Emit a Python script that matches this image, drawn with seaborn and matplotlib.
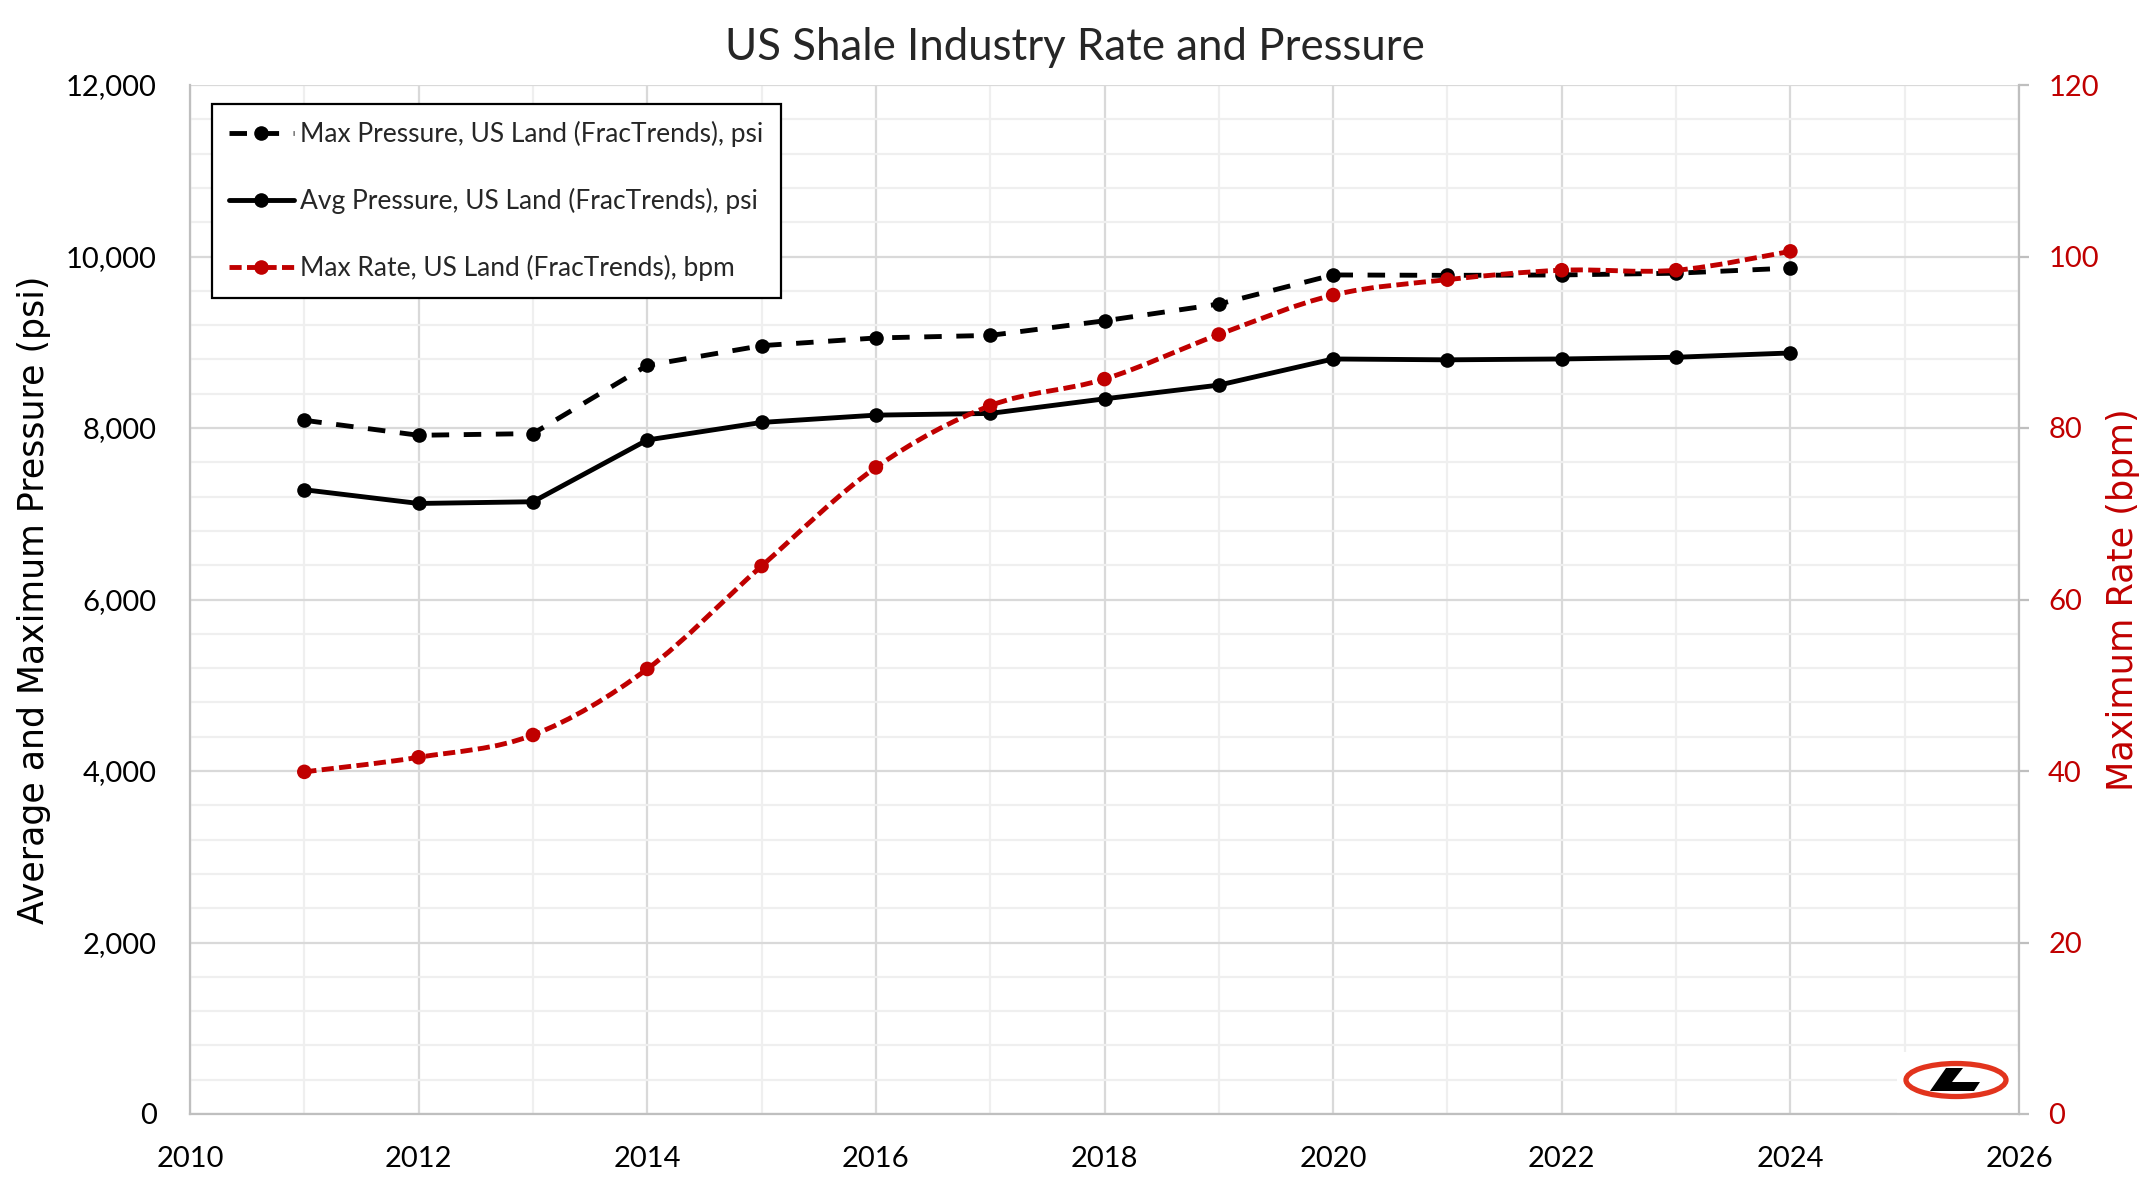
import numpy as np
import pandas as pd
import matplotlib
matplotlib.use("Agg")
import matplotlib.pyplot as plt
import seaborn as sns
from matplotlib.path import Path
from matplotlib.patches import PathPatch, Ellipse, Rectangle, Polygon
from matplotlib.lines import Line2D
from matplotlib.ticker import MultipleLocator, FuncFormatter

# ---------------- data ----------------
years = [2011, 2012, 2013, 2014, 2015, 2016, 2017, 2018, 2019, 2020, 2021, 2022, 2023, 2024]
max_pressure = [8090, 7915, 7935, 8730, 8960, 9050, 9080, 9250, 9445, 9785, 9780, 9785, 9805, 9865]
avg_pressure = [7280, 7120, 7140, 7860, 8065, 8150, 8170, 8340, 8500, 8805, 8795, 8805, 8825, 8875]
max_rate = [39.9, 41.6, 44.2, 51.9, 63.9, 75.4, 82.6, 85.7, 90.9, 95.5, 97.3, 98.4, 98.4, 100.6]

series_labels = [
    "Max Pressure, US Land (FracTrends), psi",
    "Avg Pressure, US Land (FracTrends), psi",
    "Max Rate, US Land (FracTrends), bpm",
]
title = "US Shale Industry Rate and Pressure"
left_label = "Average and Maximum Pressure (psi)"
right_label = "Maximum Rate (bpm)"

df = pd.DataFrame({"year": years, "max_pressure": max_pressure,
                   "avg_pressure": avg_pressure, "max_rate": max_rate})

# ---------------- style ----------------
sns.set_theme(style="white")
plt.rcParams["font.family"] = ["Lato", "DejaVu Sans"]

RED = "#c00000"
GRID_MAJ = "#d9d9d9"
GRID_MIN = "#efefef"
SPINE = "#bfbfbf"
LW = 3.5
MS = 10.5
DASH_BLACK = (0, (3.6, 3.0))
DASH_RED = (0, (2.5, 1.1))

W, H = 2150, 1184
fig = plt.figure(figsize=(W / 100, H / 100), dpi=100)
fig.patch.set_facecolor("white")
L, R, T, B = 190, 2019, 85, 1114
ax = fig.add_axes([L / W, 1 - B / H, (R - L) / W, (B - T) / H])
ax2 = ax.twinx()

# ---------------- lines ----------------
sns.lineplot(data=df, x="year", y="max_pressure", ax=ax, color="black", lw=LW,
             linestyle=DASH_BLACK, marker="o", markersize=MS,
             markeredgewidth=0, legend=False, zorder=3)
sns.lineplot(data=df, x="year", y="avg_pressure", ax=ax, color="black", lw=LW,
             marker="o", markersize=MS, markeredgewidth=0, legend=False, zorder=3)

# smoothed rate line (Excel-style smoothing through the data points)
pts = np.column_stack([df["year"].to_numpy(float), df["max_rate"].to_numpy(float)])
n = len(pts)
verts = [pts[0]]
codes = [Path.MOVETO]
for i in range(n - 1):
    p0 = pts[i - 1] if i > 0 else pts[i]
    p1, p2 = pts[i], pts[i + 1]
    p3 = pts[i + 2] if i + 2 < n else pts[i + 1]
    verts += [p1 + (p2 - p0) / 6.0, p2 - (p3 - p1) / 6.0, p2]
    codes += [Path.CURVE4] * 3
patch = PathPatch(Path(verts, codes), facecolor="none", edgecolor=RED, lw=LW,
                  linestyle=DASH_RED, zorder=3)
patch.set_capstyle("butt")
ax2.add_patch(patch)
sns.scatterplot(data=df, x="year", y="max_rate", ax=ax2, color=RED, s=MS ** 2,
                edgecolor="none", legend=False, zorder=4)

# ---------------- axes ----------------
ax.set_xlim(2010, 2026)
ax.set_ylim(0, 12000)
ax2.set_ylim(0, 120)
ax.xaxis.set_major_locator(MultipleLocator(2))
ax.xaxis.set_minor_locator(MultipleLocator(1))
ax.yaxis.set_major_locator(MultipleLocator(2000))
ax.yaxis.set_minor_locator(MultipleLocator(400))
ax2.yaxis.set_major_locator(MultipleLocator(20))
ax.yaxis.set_major_formatter(FuncFormatter(lambda v, p: f"{v:,.0f}"))
ax.xaxis.set_major_formatter(FuncFormatter(lambda v, p: f"{v:.0f}"))

ax.set_axisbelow(True)
ax.grid(which="major", color=GRID_MAJ, lw=1.6)
ax.grid(which="minor", color=GRID_MIN, lw=1.6)
ax2.grid(False)

for s in ["top", "right"]:
    ax.spines[s].set_visible(False)
for s in ["left", "bottom"]:
    ax.spines[s].set_color(SPINE)
    ax.spines[s].set_linewidth(1.6)
for s in ["left", "top", "bottom"]:
    ax2.spines[s].set_visible(False)
ax2.spines["right"].set_color(SPINE)
ax2.spines["right"].set_linewidth(1.6)

ax.tick_params(axis="both", which="both", length=0, labelsize=21, colors="black")
ax.tick_params(axis="y", pad=24)
ax.tick_params(axis="x", pad=23)
ax2.tick_params(axis="y", which="major", length=7, width=1.6, color=SPINE,
                labelcolor=RED, labelsize=21, pad=14)
ax.set_xlabel("")
ax.set_ylabel("")
ax2.set_ylabel("")

# ---------------- texts ----------------
fig.text(0.5, 1 - 60 / H, title, ha="center", va="baseline", fontsize=31.5,
         family=["Lato", "DejaVu Sans"])
fig.text(34 / W, 1 - 599.5 / H, left_label, rotation=90, ha="center", va="center",
         fontsize=25, family=["DejaVu Sans"], color="black")
fig.text(2123 / W, 1 - 599.5 / H, right_label, rotation=90, ha="center", va="center",
         fontsize=25.3, family=["DejaVu Sans"], color=RED)

# ---------------- legend ----------------
handles = [
    Line2D([], [], color="black", lw=LW, linestyle=DASH_BLACK, marker="o",
           markersize=MS, markeredgewidth=0),
    Line2D([], [], color="black", lw=LW, marker="o", markersize=MS, markeredgewidth=0),
    Line2D([], [], color=RED, lw=LW, linestyle=DASH_RED, marker="o",
           markersize=MS, markeredgewidth=0),
]
leg = ax2.legend(handles, series_labels, loc="upper left",
                 bbox_to_anchor=((212 - L) / (R - L), 1 - (104 - T) / (B - T)),
                 borderaxespad=0, fontsize=19, frameon=True, fancybox=False,
                 framealpha=1, edgecolor="black", handlelength=2.45,
                 handletextpad=0.25, labelspacing=1.55, borderpad=0.65)
leg.get_frame().set_linewidth(1.6)
leg.set_zorder(10)

# ---------------- logo ----------------
ax.add_patch(Rectangle((1897 / W, 1 - 1113 / H), (2018 - 1897) / W, (1113 - 1052) / H,
                       transform=fig.transFigure, facecolor="white", edgecolor="none",
                       zorder=1))
ax2.add_patch(Ellipse((1956 / W, 1 - 1080 / H), 100 / W, 33 / H, transform=fig.transFigure,
                      facecolor="none", edgecolor="#e2341d", lw=3.8, clip_on=False, zorder=6))
Lpoly = [(1946, 1068), (1963, 1068), (1952, 1082), (1980, 1082), (1974, 1091), (1930, 1091)]
ax2.add_patch(Polygon([(x / W, 1 - y / H) for x, y in Lpoly], closed=True,
                      transform=fig.transFigure, facecolor="black", edgecolor="none",
                      clip_on=False, zorder=6))

fig.savefig("out.png", dpi=100, facecolor="white")
